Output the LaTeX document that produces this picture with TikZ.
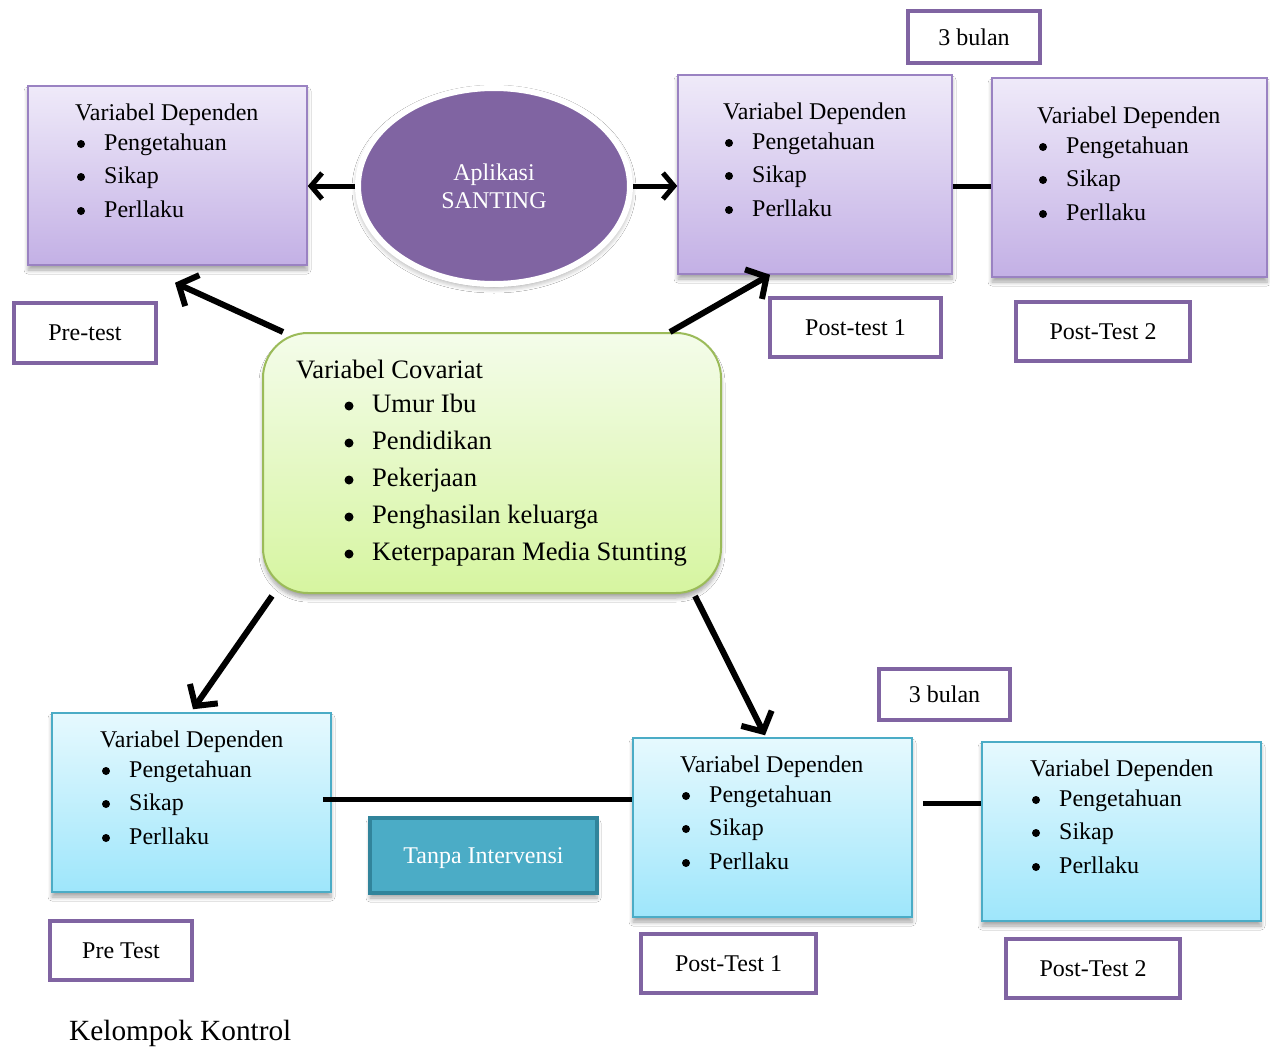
\documentclass[tikz,border=0pt]{standalone}
\usepackage{fontspec}
\setmainfont{Liberation Serif}
\usetikzlibrary{arrows.meta,shapes.geometric,calc,shadows.blur}
\definecolor{purp}{HTML}{8064A2}
\definecolor{purpline}{HTML}{9A82C2}
\definecolor{ptop}{HTML}{EFEAF9}
\definecolor{pbot}{HTML}{C3B0E5}
\definecolor{btop}{HTML}{E6F9FE}
\definecolor{bbot}{HTML}{9EE6FB}
\definecolor{bline}{HTML}{4BACC6}
\definecolor{tanfill}{HTML}{4BACC6}
\definecolor{tanline}{HTML}{31849B}
\definecolor{gtop}{HTML}{F4FCEA}
\definecolor{gbot}{HTML}{D6F5A0}
\definecolor{gline}{HTML}{9BBB59}
\newcommand\fs{\fontsize{24}{28}\selectfont}
\newcommand\fcov{\fontsize{26.6}{31}\selectfont}
\newcommand\deplist[3]{%
  \node[txt] (#1t) at (#2,#3+8) {Variabel Dependen};
  \foreach \i/\w/\d in {1/Pengetahuan/30,2/Sikap/63,3/Perllaku/97}{
    \node[bul] (#1b\i) at (#2+6,#3+2+\d) {};
    \node[txt] (#1i\i) at (#2+29,#3+8+\d) {\w};
  }}
\begin{document}
\begin{tikzpicture}[x=1pt,y=-1pt,
  txt/.style={anchor=base west,inner sep=0pt,font=\fs},
  bul/.style={circle,fill=black,minimum size=8pt,inner sep=0pt},
  small/.style={draw=purp,line width=4pt,fill=white,inner sep=0pt,font=\fs},
  shad/.style={blur shadow={shadow xshift=0pt,shadow yshift=-5pt,shadow blur radius=4pt,shadow blur steps=6,shadow opacity=35}},
  pbox/.style={draw=purpline,line width=1.5pt,top color=ptop,bottom color=pbot,inner sep=0pt,shad},
  bbox/.style={draw=bline,line width=1.5pt,top color=btop,bottom color=bbot,inner sep=0pt,shad},
  arr/.style={line width=6pt,-{Straight Barb[length=15pt,width=34pt]}},
  harr/.style={line width=5pt,-{Straight Barb[length=11pt,width=26pt]}},
  conn/.style={line width=5pt}]
\useasboundingbox (0,0) rectangle (1270,1047);
\fill[white] (0,0) rectangle (1270,1047);

% big boxes
\node[pbox,minimum width=279pt,minimum height=179pt] (TL) at (167.5,175.5) {};
\node[pbox,minimum width=274pt,minimum height=199pt] (TM) at (815,174.5) {};
\node[pbox,minimum width=275pt,minimum height=199pt] (TR) at (1129.5,177.5) {};
\node[bbox,minimum width=279pt,minimum height=179pt] (BL) at (191.5,802.5) {};
\node[bbox,minimum width=279pt,minimum height=179pt] (BM) at (772.5,827.5) {};
\node[bbox,minimum width=279pt,minimum height=179pt] (BR) at (1121.5,831.5) {};

% ellipse
\node[ellipse,draw=white,line width=6pt,fill=purp,minimum width=272pt,minimum height=196pt,
  text=white,align=center,font=\fs,inner sep=0pt,
  blur shadow={shadow xshift=0pt,shadow yshift=-3pt,shadow blur radius=6pt,shadow blur steps=6,shadow opacity=45}]
  (ell) at (494,186) {Aplikasi\\SANTING};

% covariat box
\node[draw=gline,line width=2pt,top color=gtop,bottom color=gbot,rounded corners=45pt,
  minimum width=458pt,minimum height=260pt,inner sep=0pt,shad] (cov) at (492,463) {};

% Tanpa Intervensi
\node[draw=tanline,line width=4pt,fill=tanfill,minimum width=227pt,minimum height=75pt,
  inner sep=0pt,text=white,font=\fs,text height=16pt,text depth=0pt,shad] (tan) at (483.5,855.5) {Tanpa Intervensi};

% small label boxes
\node[small,minimum width=132pt,minimum height=52pt] (bul1) at (974,37) {3 bulan};
\node[small,minimum width=142pt,minimum height=60pt] (pre1) at (85,333) {Pre-test};
\node[small,minimum width=171pt,minimum height=59pt] (post11) at (855.5,327.5) {Post-test 1};
\node[small,minimum width=174pt,minimum height=59pt] (post21) at (1103,331.5) {Post-Test 2};
\node[small,minimum width=131pt,minimum height=51pt] (bul2) at (944.5,694.5) {3 bulan};
\node[small,minimum width=142pt,minimum height=59pt] (pre2) at (121,950.5) {Pre Test};
\node[small,minimum width=175pt,minimum height=59pt] (post12) at (728.5,963.5) {Post-Test 1};
\node[small,minimum width=174pt,minimum height=59pt] (post22) at (1093,968.5) {Post-Test 2};

% connectors
\draw[harr] (ell.west) -- ([yshift=-10.5pt]TL.east);
\draw[harr] (ell.east) -- ([yshift=-11.5pt]TM.west);
\draw[conn] ([yshift=-11.5pt]TM.east) -- ([yshift=-8.5pt]TR.west);
\draw[arr] ([xshift=21pt]cov.north west) -- ([xshift=7.5pt,yshift=-17pt]TL.south);
\draw[arr] ([xshift=-52pt]cov.north east) -- ([xshift=-45pt]TM.south);
\draw[arr] ([xshift=10pt,yshift=-2pt]cov.south west) -- ([xshift=1.5pt,yshift=3pt]BL.north);
\draw[arr] ([xshift=-27pt,yshift=-2pt]cov.south east) -- ([xshift=-7.5pt,yshift=2pt]BM.north);
\draw[conn] ([xshift=-9pt,yshift=3.5pt]BL.east) -- ([yshift=28.5pt]BM.west);
\draw[conn] ([xshift=10pt,yshift=24.5pt]BM.east) -- ([yshift=28.5pt]BR.west);

% texts
\deplist{TL}{75}{112}
\deplist{TM}{723}{111}
\deplist{TR}{1037}{115}
\deplist{BL}{100}{739}
\deplist{BM}{680}{764}
\deplist{BR}{1030}{768}

\node[txt,font=\fcov] (covt) at (296,378.5) {Variabel Covariat};
\foreach \i/\w/\d in {1/Umur Ibu/34,2/Pendidikan/71,3/Pekerjaan/108,4/Penghasilan keluarga/145,5/Keterpaparan Media Stunting/182}{
  \node[bul,minimum size=9pt] (covb\i) at (349,372+\d) {};
  \node[txt,font=\fcov] (covi\i) at (372,378.5+\d) {\w};
}

\node[txt,font=\fontsize{29.3}{33}\selectfont] (kk) at (69,1040) {Kelompok Kontrol};
\end{tikzpicture}
\end{document}
